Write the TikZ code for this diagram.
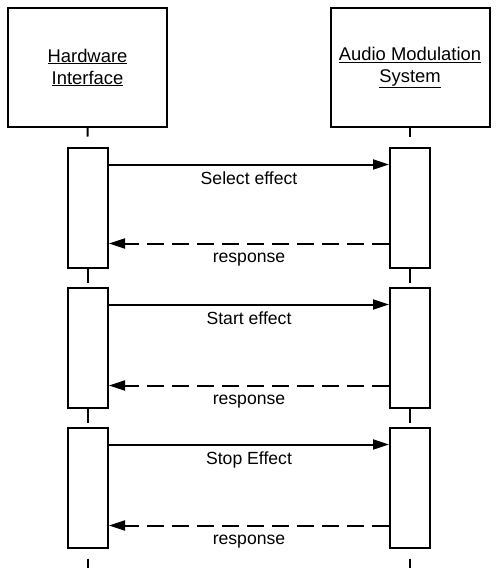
\documentclass[tikz,border=0pt]{standalone}
\usepackage{fontspec}
\setmainfont{Liberation Sans}
\usetikzlibrary{arrows.meta, positioning}

\tikzset{
    actor/.style={draw, line width=2pt, minimum width=159pt, minimum height=119pt,
        align=center, font=\fontsize{18.4}{22}\selectfont},
    activation/.style={draw, line width=2pt, minimum width=40pt, minimum height=120pt},
    lifeline/.style={line width=2pt},
    call/.style={line width=2pt, -{Triangle[length=16pt, width=10pt]}},
    reply/.style={line width=2pt, dash pattern=on 17pt off 8pt, -{Triangle[length=16pt, width=10pt]}},
    msglabel/.style={font=\fontsize{17.6}{21}\selectfont, below=3pt}
}

\begin{document}
\begin{tikzpicture}[x=1pt, y=-1pt]
    \useasboundingbox (0,0) rectangle (500,568);

    % Draw the participants
    \node[actor] (hw) at (87.5,67.5) {\underline{Hardware}\\\underline{Interface}};
    \node[actor] (am) at (410,67.5) {\underline{Audio Modulation}\\\underline{System}};

    % Draw the activation boxes
    \node[activation] (hw1) at (88,207.5) {};
    \node[activation] (hw2) at (88,347.5) {};
    \node[activation] (hw3) at (88,487.5) {};
    \node[activation] (am1) at (410,207.5) {};
    \node[activation] (am2) at (410,347.5) {};
    \node[activation] (am3) at (410,487.5) {};

    \coordinate (hwend) at (88,568);
    \coordinate (amend) at (410,568);

    % Connect the lifelines
    \draw[lifeline, shorten >=10pt] (hw.south) -- (hw1.north);
    \draw[lifeline, shorten >=4pt] (hw1.south) -- (hw2.north);
    \draw[lifeline, shorten >=4pt] (hw2.south) -- (hw3.north);
    \draw[lifeline, shorten <=10pt] (hw3.south) -- (hwend);
    \draw[lifeline, shorten >=10pt] (am.south) -- (am1.north);
    \draw[lifeline, shorten >=4pt] (am1.south) -- (am2.north);
    \draw[lifeline, shorten >=4pt] (am2.south) -- (am3.north);
    \draw[lifeline, shorten <=10pt] (am3.south) -- (amend);

    % Draw the messages
    \draw[call] ([yshift=-18pt]hw1.north east) -- node[msglabel] {Select effect} ([yshift=-18pt]am1.north west);
    \draw[reply] ([yshift=25pt]am1.south west) -- node[msglabel, below=5pt] {response} ([yshift=25pt]hw1.south east);
    \draw[call] ([yshift=-18pt]hw2.north east) -- node[msglabel] {Start effect} ([yshift=-18pt]am2.north west);
    \draw[reply] ([yshift=23pt]am2.south west) -- node[msglabel, below=5pt] {response} ([yshift=23pt]hw2.south east);
    \draw[call] ([yshift=-18pt]hw3.north east) -- node[msglabel] {Stop Effect} ([yshift=-18pt]am3.north west);
    \draw[reply] ([yshift=23pt]am3.south west) -- node[msglabel, below=5pt] {response} ([yshift=23pt]hw3.south east);
\end{tikzpicture}
\end{document}
